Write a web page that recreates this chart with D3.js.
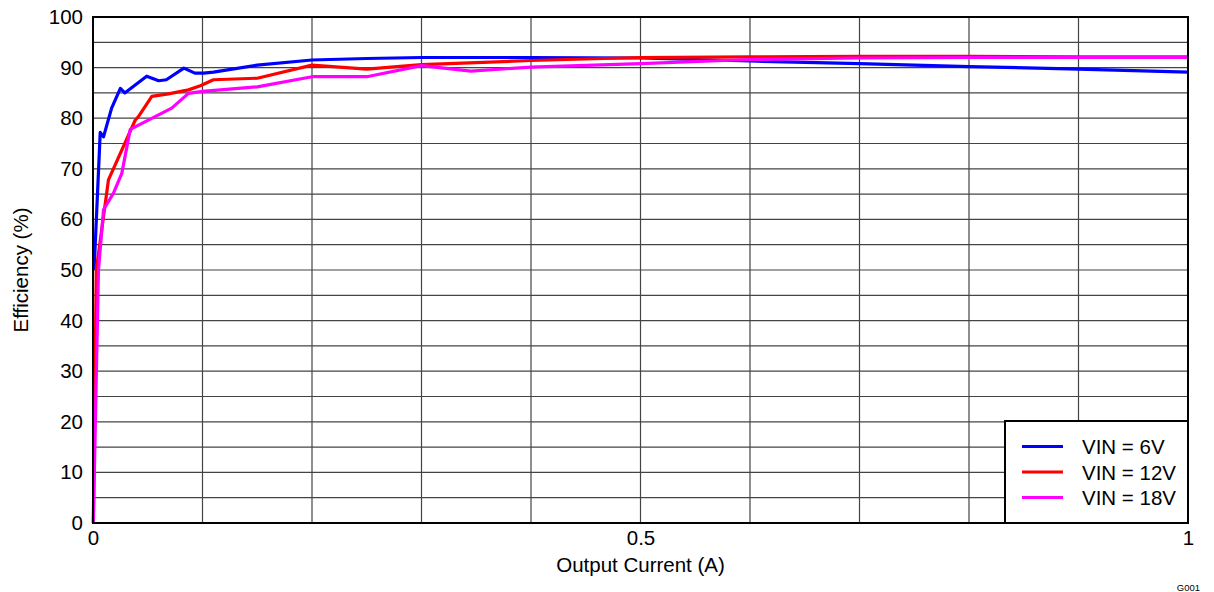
<!DOCTYPE html>
<html>
<head>
<meta charset="utf-8">
<script src="https://cdn.jsdelivr.net/npm/d3@7"></script>
<style>
  html, body { margin: 0; padding: 0; background: #ffffff; }
  svg { display: block; font-family: Arial, "Liberation Sans", sans-serif; }
</style>
</head>
<body>
<svg id="chart" width="1214" height="592"></svg>
<script>
// ---- data ----
const xTicks = [0, 0.5, 1];
const xTickLabels = ["0", "0.5", "1"];
const yTicks = [0, 10, 20, 30, 40, 50, 60, 70, 80, 90, 100];

const seriesNames = ["VIN = 6V", "VIN = 12V", "VIN = 18V"];
const seriesColors = ["#0000ff", "#ff0000", "#ff00ff"];

const vin6Current = [0.001, 0.0066, 0.0096, 0.017, 0.025, 0.029, 0.049, 0.060, 0.067, 0.083, 0.093, 0.101, 0.11, 0.15, 0.2, 0.25, 0.3, 0.4, 0.5, 0.6, 0.7, 0.8, 0.9, 1.0];
const vin6Eff     = [50, 77.2, 76.3, 82.0, 85.9, 85.0, 88.3, 87.4, 87.6, 89.9, 88.9, 88.9, 89.1, 90.5, 91.5, 91.8, 92.0, 92.0, 91.9, 91.3, 90.8, 90.2, 89.7, 89.1];

const vin12Current = [0.0003, 0.003, 0.0141, 0.0385, 0.0415, 0.0537, 0.0689, 0.0872, 0.098, 0.11, 0.15, 0.2, 0.25, 0.3, 0.4, 0.5, 0.6, 0.7, 0.8, 0.9, 1.0];
const vin12Eff     = [0, 50, 67.8, 79.6, 80.3, 84.3, 84.8, 85.6, 86.4, 87.6, 87.9, 90.5, 89.7, 90.6, 91.4, 92.0, 92.1, 92.2, 92.2, 92.1, 92.1];

const vin18Current = [0.0003, 0.005, 0.0096, 0.0187, 0.0263, 0.034, 0.0719, 0.0872, 0.1, 0.15, 0.2, 0.25, 0.3, 0.345, 0.4, 0.5, 0.6, 0.7, 0.8, 0.9, 1.0];
const vin18Eff     = [0, 50, 61.9, 65.2, 69.1, 77.8, 82.0, 84.9, 85.3, 86.2, 88.2, 88.2, 90.4, 89.3, 90.1, 90.8, 91.6, 91.9, 92.0, 92.0, 92.0];

// ---- layout ----
const svg = d3.select("#chart");
const pL = 93, pR = 1188, pT = 17, pB = 523;
const FS = 20.5;

const x = d3.scaleLinear().domain([0, 1]).range([pL, pR]);
const y = d3.scaleLinear().domain([0, 100]).range([pB, pT]);

// grid
const grid = svg.append("g");
const vGrid = d3.range(1, 10).map(i => i / 10);
const hGrid = d3.range(1, 20).map(i => i * 5);
grid.selectAll("line.v").data(vGrid).join("line").attr("class", "v")
  .attr("x1", d => x(d)).attr("x2", d => x(d))
  .attr("y1", pT).attr("y2", pB)
  .attr("stroke", "#444").attr("stroke-width", 1.2);
grid.selectAll("line.h").data(hGrid).join("line").attr("class", "h")
  .attr("x1", pL).attr("x2", pR)
  .attr("y1", d => y(d)).attr("y2", d => y(d))
  .attr("stroke", "#444").attr("stroke-width", 1.2);

// series
const series = [
  { cur: vin6Current, eff: vin6Eff },
  { cur: vin12Current, eff: vin12Eff },
  { cur: vin18Current, eff: vin18Eff }
];
const line = d3.line().x(d => x(d[0])).y(d => y(d[1]));
series.forEach((s, i) => {
  const pts = s.cur.map((c, j) => [c, s.eff[j]]);
  svg.append("path").datum(pts)
    .attr("d", line)
    .attr("fill", "none")
    .attr("stroke", seriesColors[i])
    .attr("stroke-width", 3.2)
    .attr("stroke-linejoin", "round");
});

// frame
svg.append("rect").attr("x", pL).attr("y", pT)
  .attr("width", pR - pL).attr("height", pB - pT)
  .attr("fill", "none").attr("stroke", "#000").attr("stroke-width", 2);

// axes (labels only)
const yAxis = d3.axisLeft(y).tickValues(yTicks).tickSize(0).tickPadding(10);
const gy = svg.append("g").attr("transform", `translate(${pL},0)`).call(yAxis);
gy.select(".domain").remove();
gy.selectAll("text").attr("font-size", FS).attr("font-family", "Arial, 'Liberation Sans', sans-serif").attr("fill", "#000");

const xAxis = d3.axisBottom(x).tickValues(xTicks).tickFormat((d, i) => xTickLabels[i]).tickSize(0).tickPadding(7);
const gx = svg.append("g").attr("transform", `translate(0,${pB})`).call(xAxis);
gx.select(".domain").remove();
gx.selectAll("text").attr("font-size", FS).attr("font-family", "Arial, 'Liberation Sans', sans-serif").attr("fill", "#000");

// axis titles
svg.append("text").attr("x", (pL + pR) / 2).attr("y", 572)
  .attr("text-anchor", "middle").attr("font-size", FS).text("Output Current (A)");
svg.append("text").attr("transform", `translate(20,${(pT + pB) / 2}) rotate(-90)`)
  .attr("text-anchor", "middle").attr("dominant-baseline", "central").attr("font-size", FS).text("Efficiency (%)");

svg.append("text").attr("x", 1200).attr("y", 591).attr("text-anchor", "end")
  .attr("font-size", 9.5).text("G001");

// legend
const lg = svg.append("g");
lg.append("rect").attr("x", 1005).attr("y", 421).attr("width", pR - 1005).attr("height", pB - 421)
  .attr("fill", "#fff").attr("stroke", "#000").attr("stroke-width", 2);
seriesNames.forEach((n, i) => {
  const yy = 446.5 + i * 25.5;
  lg.append("line").attr("x1", 1022).attr("x2", 1063).attr("y1", yy).attr("y2", yy)
    .attr("stroke", seriesColors[i]).attr("stroke-width", 3.2);
  lg.append("text").attr("x", 1082).attr("y", yy).attr("dominant-baseline", "central")
    .attr("font-size", FS).text(n);
});
</script>
</body>
</html>
